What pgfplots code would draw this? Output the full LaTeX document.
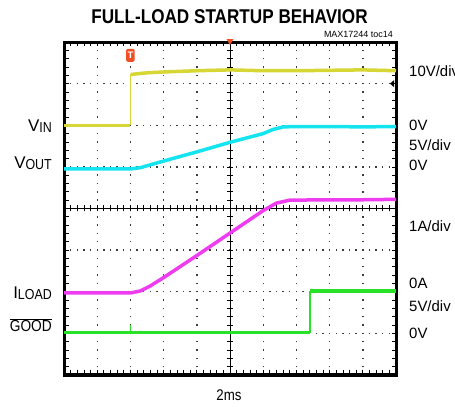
\documentclass[border=0pt]{standalone}
\usepackage{pgfplots}
\pgfplotsset{compat=1.18}
\usepackage{fontspec}
\setmainfont{Liberation Sans}
\newfontfamily\nar[FakeStretch=0.86]{Liberation Sans}

\definecolor{ych}{RGB}{214,214,52}
\definecolor{cch}{RGB}{20,228,240}
\definecolor{mch}{RGB}{240,60,240}
\definecolor{gch}{RGB}{40,226,40}
\definecolor{tred}{RGB}{240,78,36}
\definecolor{griddot}{RGB}{60,60,60}

\begin{document}
\begin{tikzpicture}
\useasboundingbox (0,0) rectangle (455bp,407bp);
% screen graticule: axis box is x 64..396 bp, y 32..365 bp (10 x 8 divisions)
\foreach \i in {1,2,3,4,6,7,8,9}
  \draw[griddot, line width=1.4bp, dash pattern=on 1.4bp off 6.925bp, dash phase=0.7bp]
    ({64bp+33.2bp*\i},32bp) -- ({64bp+33.2bp*\i},365bp);
\foreach \j in {1,2,3,5,6,7}
  \draw[griddot, line width=1.4bp, dash pattern=on 1.4bp off 5.24bp, dash phase=0.7bp]
    (64bp,{32bp+41.625bp*\j}) -- (396bp,{32bp+41.625bp*\j});
\draw[black, line width=0.8bp] (230bp,32bp) -- (230bp,365bp);
\draw[black, line width=0.8bp] (64bp,198.5bp) -- (396bp,198.5bp);
\foreach \i in {1,...,49} {
  \draw[black, line width=0.7bp] ({64bp+6.64bp*\i},195.5bp) -- ++(0,6bp);
  \draw[black, line width=0.7bp] ({64bp+6.64bp*\i},32bp) -- ++(0,4.5bp);
  \draw[black, line width=0.7bp] ({64bp+6.64bp*\i},365bp) -- ++(0,-4.5bp);
}
\foreach \j in {1,...,39} {
  \draw[black, line width=0.7bp] (227bp,{32bp+8.325bp*\j}) -- ++(6bp,0);
  \draw[black, line width=0.7bp] (64bp,{32bp+8.325bp*\j}) -- ++(4.5bp,0);
  \draw[black, line width=0.7bp] (396bp,{32bp+8.325bp*\j}) -- ++(-4.5bp,0);
}

\begin{axis}[
    at={(64bp,32bp)}, anchor=south west,
    scale only axis,
    width=332bp, height=333bp,
    xmin=0, xmax=10, ymin=0, ymax=8,
    xtick=\empty, ytick=\empty,
    axis line style={line width=3bp},
    clip=false,
]
% VIN (yellow)
\addplot[ych, line width=1.4bp] coordinates {(2,6) (2,7.22)};
\addplot[ych, line width=3.5bp] coordinates {(0,6) (2,6)};
\addplot[ych, line width=3.5bp, line join=round] coordinates {
  (2.01,7.22) (2.5,7.26) (3,7.28) (4,7.31) (5,7.33) (6,7.31) (7,7.31) (8,7.32) (9,7.33) (10,7.31)};

% VOUT (cyan)
\addplot[cch, line width=3.5bp, line join=round] coordinates {
  (0,4.95) (2,4.95) (2.3,4.98) (2.6,5.05) (3,5.14) (4,5.36) (5,5.59) (6,5.8)
  (6.3,5.9) (6.6,5.96) (7,5.97) (8,5.97) (9,5.96) (10,5.97)};

% ILOAD (magenta)
\addplot[mch, line width=3.5bp, line join=round] coordinates {
  (0,1.97) (2,1.97) (2.3,2.02) (2.6,2.14) (3,2.34) (4,2.87) (5,3.41) (6,3.95)
  (6.4,4.13) (6.8,4.2) (8,4.21) (9,4.21) (10,4.22)};

% GOOD (green)
\addplot[gch, line width=1.4bp] coordinates {(2,1.02) (2,1.19)};
\addplot[gch, line width=1.4bp] coordinates {(7.41,1.02) (7.41,2.02)};
\addplot[gch, line width=3.5bp] coordinates {(0,1.02) (7.41,1.02)};
\addplot[gch, line width=3.5bp] coordinates {(7.42,2.02) (10,2.02)};

% scope markers
\node[fill=tred, text=white, rounded corners=1.5bp, inner sep=0pt,
      minimum width=8.5bp, minimum height=13bp,
      font=\fontsize{9.5}{9.5}\selectfont\bfseries] at (axis cs:2,7.68) {T};
\fill[tred] ([shift={(-3.5bp,3bp)}]axis cs:5,8) -- ([shift={(3.5bp,3bp)}]axis cs:5,8)
  -- ([shift={(0bp,-3bp)}]axis cs:5,8) -- cycle;
\fill[black] ([shift={(-6bp,0bp)}]axis cs:10,7) -- ([shift={(-2bp,3.5bp)}]axis cs:10,7)
  -- ([shift={(-2bp,-3.5bp)}]axis cs:10,7) -- cycle;
\end{axis}

% title and notes
\node[anchor=base, font=\fontsize{20}{20}\selectfont\nar\bfseries] at (229.5bp,383bp)
  {FULL-LOAD STARTUP BEHAVIOR};
\node[anchor=base east, inner sep=0pt, font=\fontsize{9}{9}\selectfont] at (393bp,369.5bp)
  {MAX17244 toc14};
\node[anchor=base, inner sep=0pt, font=\fontsize{15.5}{15.5}\selectfont\nar] at (229bp,7bp) {2ms};

% left labels
\begin{scope}[every node/.style={anchor=base east, inner sep=0pt}]
\node at (52bp,275bp) {\fontsize{17}{17}\selectfont V\raisebox{-1bp}{\fontsize{14.5}{14.5}\selectfont\nar IN}};
\node at (52bp,238.5bp) {\fontsize{17}{17}\selectfont V\raisebox{-1bp}{\fontsize{14.5}{14.5}\selectfont\nar OUT}};
\node at (52bp,108bp) {\fontsize{17}{17}\selectfont I\raisebox{-1bp}{\fontsize{14.5}{14.5}\selectfont\nar LOAD}};
\node at (52bp,75.3bp) {\fontsize{16}{16}\selectfont\nar $\overline{\hbox{GOOD}}$};
\end{scope}

% right labels
\begin{scope}[every node/.style={anchor=base west, inner sep=0pt, font=\fontsize{15}{15}\selectfont}]
\node at (409bp,330bp) {10V/div};
\node at (409bp,276.3bp) {0V};
\node at (409bp,256.3bp) {5V/div};
\node at (409bp,236.3bp) {0V};
\node at (409bp,175.3bp) {1A/div};
\node at (409bp,118.7bp) {0A};
\node at (409bp,95.3bp) {5V/div};
\node at (409bp,68.5bp) {0V};
\end{scope}
\end{tikzpicture}
\end{document}
